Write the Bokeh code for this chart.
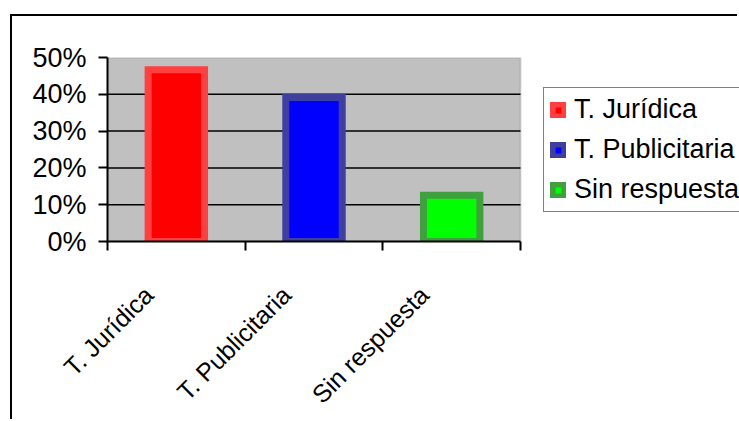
import math
from bokeh.plotting import figure
from bokeh.models import (FixedTicker, NumeralTickFormatter, Legend, LegendItem,
                          ColumnDataSource, BoxAnnotation)
from bokeh.embed import file_html
from bokeh.resources import INLINE

categories = ["T. Jurídica", "T. Publicitaria", "Sin respuesta"]
values = [0.467, 0.391, 0.126]
fill_colors = ["#FF0000", "#0000FF", "#00FF00"]
line_colors = ["#FF4040", "#3F3F9F", "#40A040"]
y_ticks = [0, 0.1, 0.2, 0.3, 0.4, 0.5]
grid_ticks = [0.1, 0.2, 0.3, 0.4]
y_max = 0.5

FONT = "Liberation Sans"
FS_X = "25px"
FS = "27px"
LABEL_SHIFT = 0.2  # horizontal shift of the slanted category labels (style)

# layout (pixels)
FIG_W, FIG_H = 727, 405
BORDER_L, BORDER_T, BORDER_B = 95, 41, 179
AREA_W = 413  # width of the grey plot area
frame_w = FIG_W - BORDER_L
n = len(categories)
x_end = n * frame_w / AREA_W

xs = [i + 0.5 for i in range(n)]
label_pos = [x - LABEL_SHIFT for x in xs]
boundaries = [float(i) for i in range(n + 1)]

src = ColumnDataSource(dict(x=xs, top=values, cat=categories, fill=fill_colors, line=line_colors))
grid_src = ColumnDataSource(dict(x0=[0] * len(grid_ticks), x1=[n] * len(grid_ticks),
                                 y=grid_ticks))

p = figure(width=FIG_W, height=FIG_H, x_range=(0, x_end), y_range=(0, y_max),
           output_backend="svg", toolbar_location=None,
           min_border_left=BORDER_L, min_border_right=0, min_border_top=BORDER_T,
           min_border_bottom=BORDER_B)
p.styles = {"margin-left": "10px", "margin-top": "14px",
            "border-left": "2px solid black", "border-top": "2px solid black"}

p.background_fill_color = "white"
p.border_fill_color = "white"
p.outline_line_color = None
p.grid.visible = False

area = BoxAnnotation(left=0, right=n, bottom=0, top=y_max,
                     fill_color="#C0C0C0", fill_alpha=1,
                     line_color="#808080", line_width=2, level="image")
p.add_layout(area)

p.segment(x0="x0", x1="x1", y0="y", y1="y", source=grid_src,
          line_color="black", line_width=1.5)

r = p.vbar(x="x", top="top", bottom=0, width=0.41, source=src,
           fill_color="fill", line_color="line", line_width=7, line_join="miter")

# y axis
ya = p.yaxis[0]
ya.ticker = FixedTicker(ticks=y_ticks)
ya.formatter = NumeralTickFormatter(format="0%")
ya.axis_line_color = "black"
ya.axis_line_width = 2
ya.major_tick_line_color = "black"
ya.major_tick_line_width = 2
ya.major_tick_out = 9
ya.major_tick_in = 0
ya.minor_tick_line_color = None
ya.major_label_text_font = FONT
ya.major_label_text_font_size = FS
ya.major_label_text_color = "black"
ya.major_label_standoff = 12

# x axis
xa = p.xaxis[0]
xa.bounds = (0, n)
xa.ticker = FixedTicker(ticks=label_pos, minor_ticks=boundaries)
xa.major_label_overrides = {x: c for x, c in zip(label_pos, categories)}
xa.axis_line_color = "black"
xa.axis_line_width = 2
xa.major_tick_line_color = None
xa.major_tick_out = 0
xa.major_tick_in = 0
xa.minor_tick_line_color = "black"
xa.minor_tick_line_width = 2
xa.minor_tick_out = 9
xa.minor_tick_in = 0
xa.major_label_orientation = math.pi / 4
xa.major_label_text_font = FONT
xa.major_label_text_font_size = FS_X
xa.major_label_text_color = "black"
xa.major_label_standoff = 40

items = [LegendItem(label=c, renderers=[r], index=i) for i, c in enumerate(categories)]
legend = Legend(items=items, location=(436, 29), margin=0, padding=6, spacing=9,
                glyph_width=16, glyph_height=16, label_standoff=8,
                label_text_font=FONT, label_text_font_size=FS, label_text_color="black",
                border_line_color="black", border_line_width=1.5,
                background_fill_color="white", background_fill_alpha=1)
p.add_layout(legend, "center")

open("out.html", "w").write(file_html(p, INLINE))
